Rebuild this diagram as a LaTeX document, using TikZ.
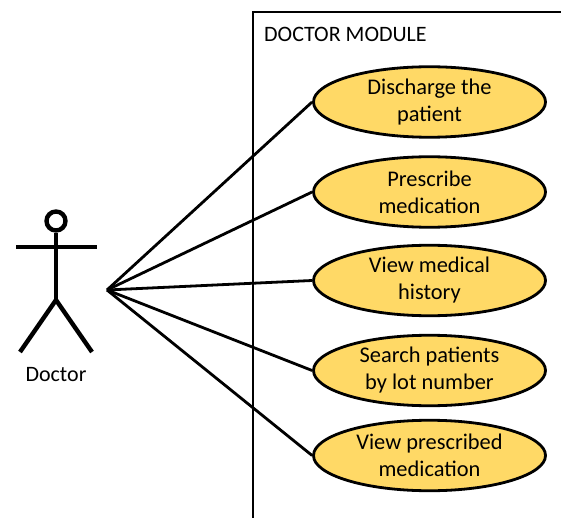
\documentclass[tikz,border=0pt]{standalone}
\usepackage{fontspec}
\setmainfont{Carlito}
\usetikzlibrary{shapes.geometric}
\definecolor{usecasefill}{RGB}{255,217,102}
\begin{document}
\begin{tikzpicture}[x=1pt,y=-1pt]
  \tikzstyle{usecase}=[ellipse,draw,line width=2.8pt,fill=usecasefill,minimum width=232pt,minimum height=70.5pt,inner sep=0pt,align=center,font=\fontsize{22.4}{27}\selectfont]
  \tikzstyle{limb}=[line width=4.4pt]
  \tikzstyle{link}=[line width=2.8pt]
  \useasboundingbox (0,0) rectangle (561,518);
  \coordinate (boxbl) at (253,518);
  \coordinate (boxtl) at (253,12);
  \coordinate (boxtr) at (561,12);
  \coordinate (hub) at (107,290);
  \draw [link] (boxbl) -- (boxtl) -- (boxtr);
  \node (title) [anchor=base west,inner sep=0pt,font=\fontsize{22}{24}\selectfont] at (264,42) {DOCTOR MODULE};
  % use cases
  \node (discharge) [usecase] at (429.5,102) {Discharge the\\patient};
  \node (prescribe) [usecase] at (429.5,192) {Prescribe\\medication};
  \node (history)   [usecase] at (429.5,280.5) {View medical\\history};
  \node (search)    [usecase] at (429.5,370.5) {Search patients\\by lot number};
  \node (viewmed)   [usecase] at (429.5,455.5) {View prescribed\\medication};
  % actor
  \node (head) [circle,draw,line width=4.4pt,minimum size=19pt,inner sep=0pt] at (56,221) {};
  \coordinate (handl) at (16,247);
  \coordinate (handr) at (97,247);
  \coordinate (neck) at (56,247);
  \coordinate (hip) at (56,300);
  \coordinate (footl) at (20,352);
  \coordinate (footr) at (92,352);
  \draw [limb] (handl) -- (handr);
  \draw [limb] (head) -- (neck) -- (hip);
  \draw [limb] (footl) -- (hip) -- (footr);
  \node (doctor) [anchor=base,inner sep=0pt,font=\fontsize{22}{24}\selectfont] at (56,381) {Doctor};
  % connectors
  \draw [link] (hub) -- (discharge.west);
  \draw [link] (hub) -- (prescribe.west);
  \draw [link] (hub) -- (history.west);
  \draw [link] (hub) -- (search.west);
  \draw [link] (hub) -- (viewmed.west);
\end{tikzpicture}
\end{document}
